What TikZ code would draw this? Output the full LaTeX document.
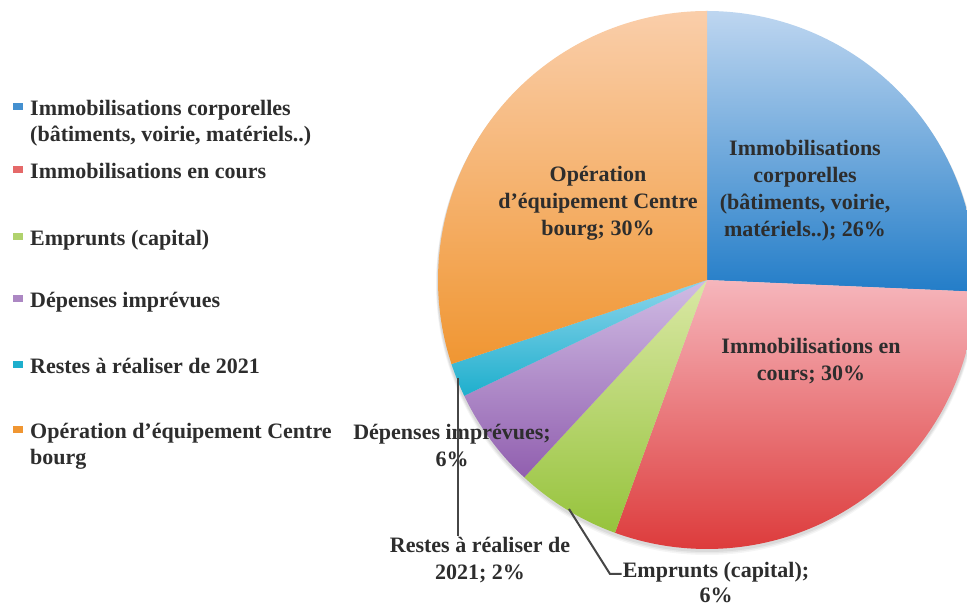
\documentclass[tikz,border=0pt]{standalone}
\usepackage{fontspec}
\usetikzlibrary{calc}
\setmainfont{Liberation Serif}
\definecolor{txt}{RGB}{45,45,45}
\definecolor{lead}{RGB}{70,70,70}
\definecolor{blueT}{RGB}{190,214,240}\definecolor{blueB}{RGB}{35,125,200}
\definecolor{redT}{RGB}{246,182,188}\definecolor{redB}{RGB}{220,55,55}
\definecolor{greenT}{RGB}{218,232,165}\definecolor{greenB}{RGB}{150,195,60}
\definecolor{purpT}{RGB}{208,188,228}\definecolor{purpB}{RGB}{145,95,175}
\definecolor{cyanT}{RGB}{140,212,235}\definecolor{cyanB}{RGB}{30,175,205}
\definecolor{oranT}{RGB}{250,206,170}\definecolor{oranB}{RGB}{240,150,50}
\begin{document}
\begin{tikzpicture}[x=1pt,y=1pt,
  lab/.style={text=txt,font=\bfseries\fontsize{22}{27}\selectfont,align=center,inner sep=1pt},
  leg/.style={text=txt,font=\bfseries\fontsize{22}{26.5}\selectfont,align=left,anchor=north west,inner sep=0pt},
  legmark/.style={minimum width=10pt,minimum height=7pt,inner sep=0pt,draw=none},
  leader/.style={draw=lead,line width=2pt}]
\clip (0,0) rectangle (967,610);
\fill[white] (0,0) rectangle (967,610);
\def\R{269}
\coordinate (c) at (707,330);
% soft shadow
\foreach \d/\o in {4/0.04,3/0.05,2/0.06}{\fill[black,opacity=\o] ($(c)+(0,-\d)$) circle[radius=\R+\d/2];}
% slices
\shade[top color=blueT,bottom color=blueB] (c) -- ++(90:\R) arc[start angle=90,end angle=-2.5,radius=\R] -- cycle;
\shade[top color=redT,bottom color=redB] (c) -- ++(-2.5:\R) arc[start angle=-2.5,end angle=-110,radius=\R] -- cycle;
\shade[top color=greenT,bottom color=greenB] (c) -- ++(-110:\R) arc[start angle=-110,end angle=-132.8,radius=\R] -- cycle;
\shade[top color=purpT,bottom color=purpB] (c) -- ++(-132.8:\R) arc[start angle=-132.8,end angle=-154.5,radius=\R] -- cycle;
\shade[top color=cyanT,bottom color=cyanB] (c) -- ++(-154.5:\R) arc[start angle=-154.5,end angle=-161.8,radius=\R] -- cycle;
\shade[top color=oranT,bottom color=oranB] (c) -- ++(-161.8:\R) arc[start angle=-161.8,end angle=-270,radius=\R] -- cycle;
% slice labels
\node[lab] (lblue) at (805,419) {Immobilisations\\corporelles\\(bâtiments, voirie,\\matériels..); 26\%};
\node[lab] (lorange) at (598,407) {Opération\\d’équipement Centre\\bourg; 30\%};
\node[lab] (lred) at (811,249) {Immobilisations en\\cours; 30\%};
\node[lab] (lpurp) at (452,164) {Dépenses imprévues;\\6\%};
\node[lab] (lcyan) at (480,50) {Restes à réaliser de\\2021; 2\%};
\node[lab,font=\bfseries\fontsize{22}{25}\selectfont] (lgreen) at (716,27) {Emprunts (capital);\\6\%};
% leader lines
\coordinate (cs) at (458,232);
\coordinate (gs) at (569,101);
\coordinate (gb) at (610,36);
\draw[leader] (cs) -- (cs |- lcyan.north);
\draw[leader] (gs) -- (gb) -- (gb -| lgreen.west);
% legend
\node[legmark,fill=blueB!85] (m1) at (18,503) {};
\node[legmark,fill=redB!75] (m2) at (18,440) {};
\node[legmark,fill=greenB!75] (m3) at (18,373) {};
\node[legmark,fill=purpB!75] (m4) at (18,311) {};
\node[legmark,fill=cyanB] (m5) at (18,245) {};
\node[legmark,fill=oranB] (m6) at (18,180) {};
\node[leg] (t1) at (30,510) {Immobilisations corporelles\\(bâtiments, voirie, matériels..)};
\node[leg] (t2) at (30,447) {Immobilisations en cours};
\node[leg] (t3) at (30,380) {Emprunts (capital)};
\node[leg] (t4) at (30,318) {Dépenses imprévues};
\node[leg] (t5) at (30,252) {Restes à réaliser de 2021};
\node[leg] (t6) at (30,187) {Opération d’équipement Centre\\bourg};
\end{tikzpicture}
\end{document}
